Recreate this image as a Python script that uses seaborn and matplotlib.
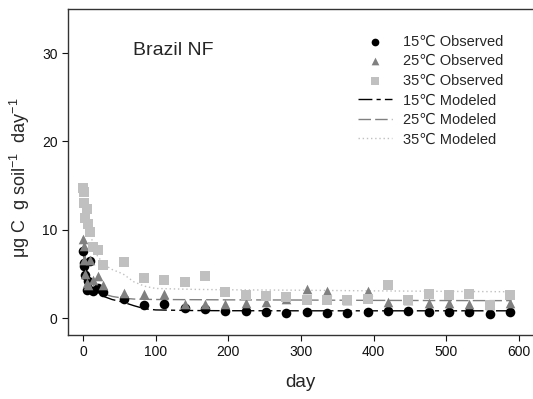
import matplotlib
matplotlib.use("Agg")
import matplotlib.pyplot as plt
import numpy as np
import pandas as pd
import seaborn as sns

# Observed respiration rates (ug C g soil^-1 day^-1)
days_obs = [0, 1, 2, 3, 5, 7, 10, 14, 21, 28,
            56, 84, 112, 140, 168, 196, 224, 252, 280, 308,
            336, 364, 392, 420, 448, 476, 504, 532, 560, 588]
obs_15 = [7.6, 6.2, 5.9, 4.9, 3.2, 4.2, 6.5, 3.1, 3.4, 2.9,
          2.2, 1.5, 1.6, 1.1, 1.0, 0.85, 0.85, 0.7, 0.6, 0.72,
          0.55, 0.55, 0.72, 0.8, 0.83, 0.65, 0.65, 0.65, 0.45, 0.72]
obs_25 = [9.0, 8.2, 6.6, 5.0, 4.0, 3.7, 6.6, 4.3, 4.8, 3.7,
          2.8, 2.75, 2.75, 1.6, 1.6, 1.6, 1.7, 1.8, 2.2, 3.3,
          3.1, 2.0, 3.1, 1.85, 2.0, 1.7, 1.7, 1.6, 1.5, 1.7]
obs_35 = [14.7, 14.3, 13.0, 11.3, 12.3, 10.6, 9.8, 8.1, 7.7, 6.0,
          6.3, 4.5, 4.3, 4.1, 4.8, 2.9, 2.6, 2.5, 2.35, 2.1,
          2.0, 2.1, 2.2, 3.7, 2.0, 2.7, 2.6, 2.7, 1.5, 2.6]

# Modeled rates
days_mod = [0, 5, 10, 15, 20, 30, 40, 55, 70, 85, 100, 150, 200, 300, 400, 500, 590]
mod_15 = [7.8, 5.0, 3.8, 3.2, 2.9, 2.4, 2.1, 1.8, 1.4, 1.05, 0.92, 0.85, 0.83, 0.82, 0.82, 0.82, 0.82]
mod_25 = [9.2, 5.6, 4.2, 3.6, 3.2, 2.7, 2.45, 2.25, 2.15, 2.12, 2.1, 2.08, 2.06, 2.04, 2.0, 1.98, 1.97]
mod_35 = [14.5, 11.5, 9.5, 8.1, 7.0, 6.0, 5.5, 5.0, 4.1, 3.6, 3.35, 3.25, 3.2, 3.15, 3.08, 3.02, 2.98]

temps = ["15\u2103", "25\u2103", "35\u2103"]
colors = ["#000000", "#808080", "#c0c0c0"]
markers = ["o", "^", "s"]
line_styles = [(0, (10, 3, 3, 3)), (0, (9, 3)), (0, (1, 2))]

obs = pd.concat([pd.DataFrame({"day": days_obs, "rate": v, "temp": t})
                 for t, v in zip(temps, [obs_15, obs_25, obs_35])])
mod = pd.concat([pd.DataFrame({"day": days_mod, "rate": v, "temp": t})
                 for t, v in zip(temps, [mod_15, mod_25, mod_35])])

sns.set_style("ticks")
plt.rcParams["font.family"] = ["Liberation Sans", "DejaVu Sans"]
plt.rcParams["mathtext.fontset"] = "custom"
plt.rcParams["mathtext.rm"] = "Liberation Sans"
plt.rcParams["mathtext.it"] = "Liberation Sans:italic"

fig = plt.figure(figsize=(5.33, 3.99), dpi=100)
ax = fig.add_axes([0.1276, 0.1604, 0.8724, 0.817])

obs_handles = []
mod_handles = []
for t, c, ls in zip(temps, colors, line_styles):
    sns.lineplot(data=mod[mod.temp == t], x="day", y="rate", ax=ax,
                 color=c, linestyle=ls, linewidth=1.0, zorder=2)
    mod_handles.append(ax.lines[-1])
for t, c, m in zip(temps, colors, markers):
    sns.scatterplot(data=obs[obs.temp == t], x="day", y="rate", ax=ax,
                    color=c, marker=m, s=48, linewidth=0, zorder=3)
    obs_handles.append(ax.collections[-1])

ax.set_xlim(-20.7, 619.6)
ax.set_ylim(-1.92, 35)
ax.set_xticks([0, 100, 200, 300, 400, 500, 600])
ax.set_yticks([0, 10, 20, 30])
ax.tick_params(direction="out", length=4, width=0.8, labelsize=10, colors="#111111")
for s in ["left", "bottom", "top"]:
    ax.spines[s].set_color("#333333")
    ax.spines[s].set_linewidth(1.0)
ax.spines["right"].set_visible(False)

ax.set_xlabel("day", fontsize=13.5)
ax.xaxis.set_label_coords(0.5, -0.12)
ax.set_ylabel("\u03bcg C  g soil$^{-1}$  day$^{-1}$", fontsize=13)
ax.yaxis.set_label_coords(-0.078, 0.483)

ax.text(0.14, 0.874, "Brazil NF", transform=ax.transAxes, fontsize=14,
        ha="left", va="center")

labels = [f"{t} Observed" for t in temps] + [f"{t} Modeled" for t in temps]
ax.legend(obs_handles + mod_handles, labels, loc="upper left",
          bbox_to_anchor=(0.624, 0.921), frameon=False, fontsize=10.5,
          handlelength=2.3, handletextpad=0.8, labelspacing=0.38,
          borderpad=0, borderaxespad=0, markerscale=0.8)

fig.savefig("out.png", dpi=100)
